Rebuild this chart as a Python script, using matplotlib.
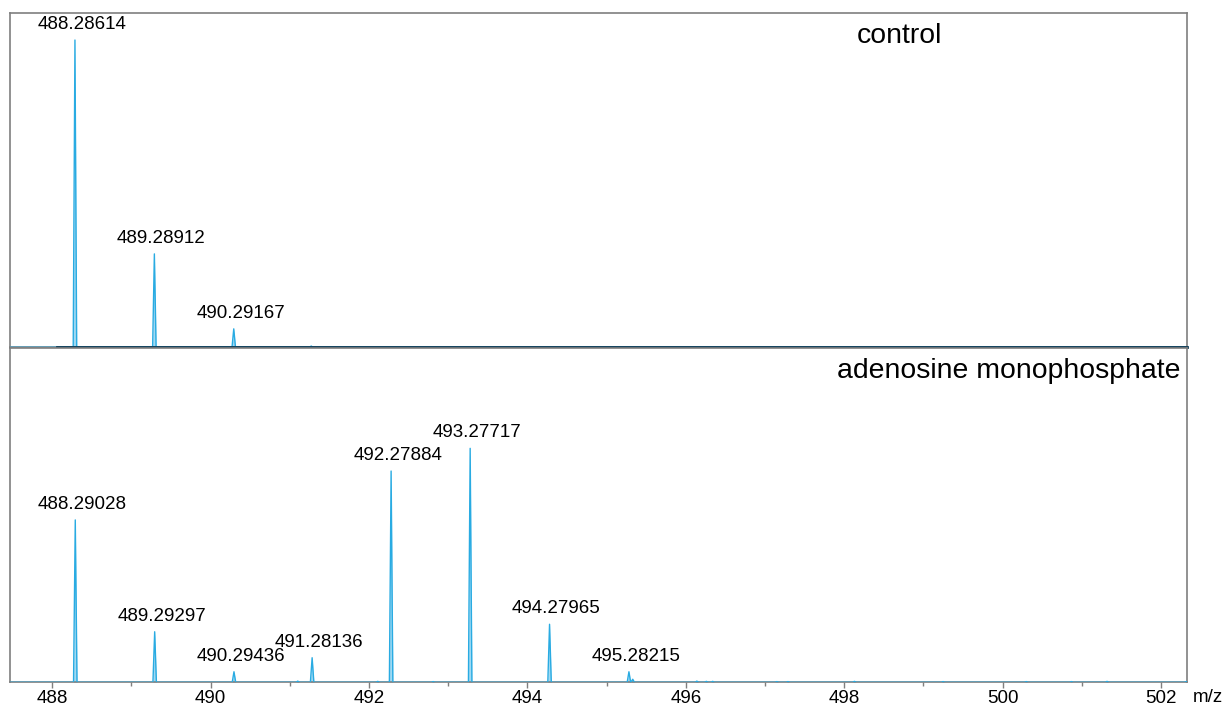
import numpy as np
import matplotlib as mpl
mpl.use('Agg')
import matplotlib.pyplot as plt
from matplotlib.ticker import MultipleLocator

plt.rcParams['font.family'] = ['Liberation Sans', 'DejaVu Sans']

# centroid peaks (m/z, relative intensity)
control_mz = [488.28614, 489.28912, 490.29167, 491.27]
control_int = [100.0, 30.4, 6.0, 0.4]
control_labels = ['488.28614', '489.28912', '490.29167', '']

amp_mz = [488.29028, 489.29297, 490.29436, 491.10, 491.28136, 492.11,
          492.27884, 492.81, 493.27717, 494.27965, 495.28215, 495.33,
          496.14, 496.26, 496.34, 497.15, 497.29, 498.13, 499.25,
          500.30, 500.87, 501.32, 502.32]
amp_int = [69.4, 21.6, 4.5, 0.5, 10.5, 0.4,
           90.3, 0.3, 100.0, 24.8, 4.5, 1.3,
           0.5, 0.4, 0.4, 0.3, 0.3, 0.4, 0.3,
           0.3, 0.3, 0.4, 0.3]
amp_labels = ['488.29028', '489.29297', '490.29436', '', '491.28136', '',
              '492.27884', '', '493.27717', '494.27965', '495.28215', '',
              '', '', '', '', '', '', '', '', '', '', '']

XMIN, XMAX = 487.466, 502.33
PEAK_COLOR = '#29abe2'
FILL_COLOR = '#9fd9f3'
SPINE_COLOR = '#7f7f7f'
HALF_W = 0.022


def profile(mz, inten):
    # turn centroids into narrow triangular peaks on a flat baseline
    xs, ys = [XMIN], [0.0]
    for m, i in sorted(zip(mz, inten)):
        xs += [m - HALF_W, m, m + HALF_W]
        ys += [0.0, i, 0.0]
    xs.append(XMAX)
    ys.append(0.0)
    return np.array(xs), np.array(ys)


def draw_panel(ax, mz, inten, labels, ytop, title, title_x):
    x, y = profile(mz, inten)
    ax.fill_between(x, 0, y, color=FILL_COLOR, lw=0, zorder=2)
    ax.plot(x, y, color=PEAK_COLOR, lw=1.0, zorder=3)
    for m, i, lab in zip(mz, inten, labels):
        if lab:
            ax.annotate(lab, xy=(m, i), xytext=(5, 5), textcoords='offset points',
                        ha='center', va='bottom', fontsize=13.5)
    ax.set_xlim(XMIN, XMAX)
    ax.set_ylim(0, ytop)
    ax.set_yticks([])
    for sp in ax.spines.values():
        sp.set_color(SPINE_COLOR)
        sp.set_linewidth(1.2)
    ax.text(title_x, 0.91, title, transform=ax.transAxes, fontsize=20.4,
            ha='left', va='baseline')


fig = plt.figure(figsize=(12.23, 7.06), dpi=100)
ax1 = fig.add_axes([0.00818, 0.5081, 0.9624, 0.4735])
ax2 = fig.add_axes([0.00818, 0.0336, 0.9624, 0.4735])

draw_panel(ax1, control_mz, control_int, control_labels, 108.8, 'control', 0.7196)
draw_panel(ax2, amp_mz, amp_int, amp_labels, 142.9, 'adenosine monophosphate', 0.7026)

# dark baseline trace of the control spectrum
ax1.plot([488.06, XMAX], [0, 0], color='#0d3b56', lw=2.0, zorder=4, clip_on=False)
ax1.set_xticks([])

ax2.xaxis.set_major_locator(MultipleLocator(2))
ax2.xaxis.set_minor_locator(MultipleLocator(1))
ax2.tick_params(axis='x', which='both', direction='out', color=SPINE_COLOR,
                labelsize=13.5, pad=1.5)
ax2.tick_params(axis='x', which='major', length=4, width=1)
ax2.tick_params(axis='x', which='minor', length=3, width=1)
ax2.annotate('m/z', xy=(1, 0), xycoords='axes fraction', xytext=(4, -4.5),
             textcoords='offset points', ha='left', va='top', fontsize=13.5)

plt.savefig('out.png', dpi=100)
